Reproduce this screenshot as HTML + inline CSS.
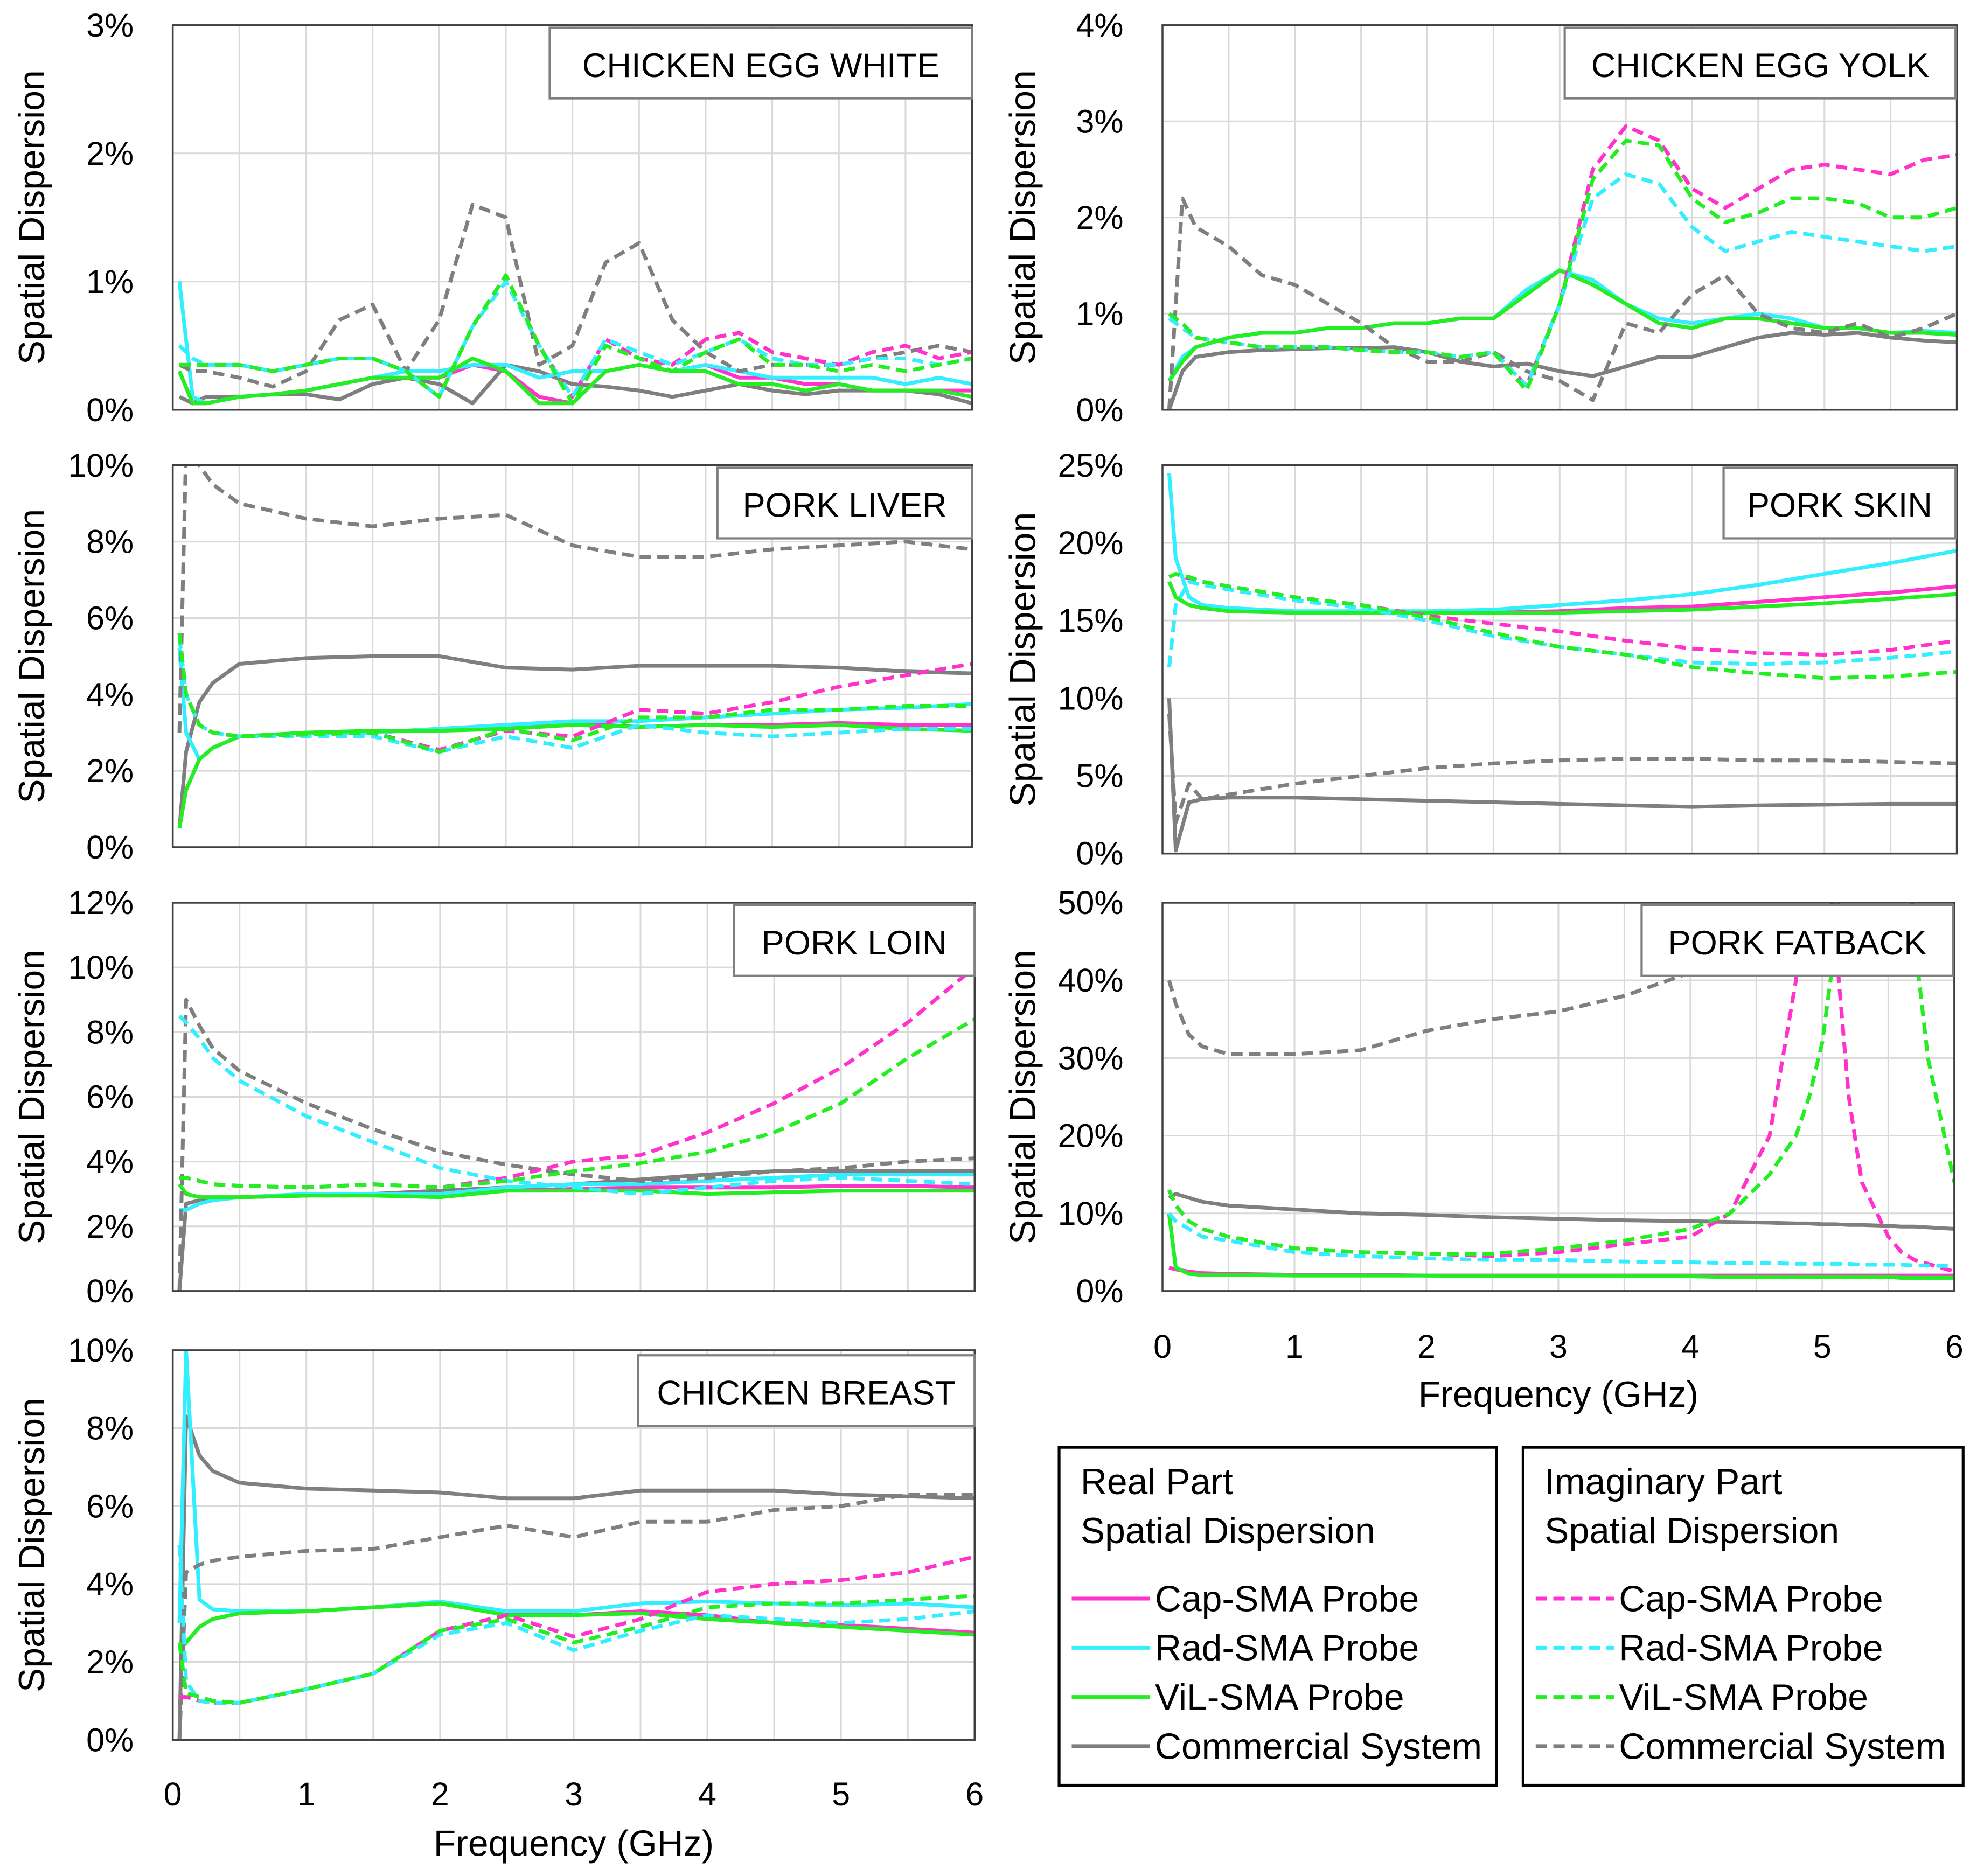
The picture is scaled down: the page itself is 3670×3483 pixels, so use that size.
<!DOCTYPE html>
<html><head><meta charset="utf-8"><style>
html,body{margin:0;padding:0;background:#fff;}
svg{display:block;font-family:"Liberation Sans","DejaVu Sans",sans-serif;}
</style></head><body>
<svg id="chart" width="3670" height="3483" viewBox="0 0 1568 1488" preserveAspectRatio="none" xmlns="http://www.w3.org/2000/svg">
<rect width="1568" height="1488" fill="#fff"/>
</svg>
<script>
// ---------- data ----------
const freqFine = [0.05,0.15,0.25,0.5,0.75,1,1.25,1.5,1.75,2,2.25,2.5,2.75,3,3.25,3.5,3.75,4,4.25,4.5,4.75,5,5.25,5.5,5.75,6];
const freqCoarse = [0.05,0.1,0.2,0.3,0.5,1,1.5,2,2.5,3,3.5,4,4.5,5,5.5,6];
const freqFat = [0.05,0.1,0.2,0.3,0.5,1,1.5,2,2.5,3,3.5,4,4.3,4.6,4.8,4.9,5.0,5.1,5.2,5.3,5.5,5.6,5.7,5.8,6];
const seriesNames = ["Cap-SMA Probe","Rad-SMA Probe","ViL-SMA Probe","Commercial System"];

// Chicken egg white
const ewRealCap = [0.3,0.05,0.05,0.1,0.12,0.15,0.2,0.25,0.25,0.25,0.35,0.3,0.1,0.05,0.3,0.35,0.3,0.35,0.25,0.25,0.2,0.2,0.15,0.15,0.15,0.15];
const ewRealRad = [1.0,0.1,0.05,0.1,0.12,0.15,0.2,0.25,0.3,0.3,0.35,0.35,0.25,0.3,0.3,0.35,0.3,0.35,0.3,0.25,0.25,0.25,0.25,0.2,0.25,0.2];
const ewRealVil = [0.3,0.05,0.05,0.1,0.12,0.15,0.2,0.25,0.25,0.25,0.4,0.3,0.05,0.05,0.3,0.35,0.3,0.3,0.2,0.2,0.15,0.2,0.15,0.15,0.15,0.1];
const ewRealCom = [0.1,0.05,0.1,0.1,0.12,0.12,0.08,0.2,0.25,0.2,0.05,0.35,0.3,0.2,0.18,0.15,0.1,0.15,0.2,0.15,0.12,0.15,0.15,0.15,0.12,0.05];
const ewImagCap = [0.35,0.35,0.35,0.35,0.3,0.35,0.4,0.4,0.3,0.1,0.65,1.05,0.5,0.1,0.55,0.4,0.35,0.55,0.6,0.45,0.4,0.35,0.45,0.5,0.4,0.45];
const ewImagRad = [0.5,0.4,0.35,0.35,0.3,0.35,0.4,0.4,0.3,0.1,0.65,1.0,0.5,0.1,0.55,0.45,0.35,0.45,0.55,0.4,0.35,0.35,0.4,0.4,0.35,0.4];
const ewImagVil = [0.35,0.35,0.35,0.35,0.3,0.35,0.4,0.4,0.3,0.1,0.65,1.05,0.5,0.05,0.5,0.4,0.3,0.45,0.55,0.35,0.35,0.3,0.35,0.3,0.35,0.4];
const ewImagCom = [0.35,0.3,0.3,0.25,0.18,0.3,0.7,0.82,0.3,0.7,1.6,1.5,0.35,0.5,1.15,1.3,0.7,0.45,0.3,0.35,0.35,0.35,0.4,0.45,0.5,0.45];

// Chicken egg yolk
const eyRealCap = [0.3,0.5,0.65,0.75,0.8,0.8,0.85,0.85,0.9,0.9,0.95,0.95,1.2,1.45,1.3,1.1,0.9,0.85,0.95,0.95,0.9,0.85,0.85,0.8,0.8,0.78];
const eyRealRad = [0.3,0.55,0.65,0.75,0.8,0.8,0.85,0.85,0.9,0.9,0.95,0.95,1.25,1.45,1.35,1.1,0.95,0.9,0.95,1.0,0.95,0.85,0.85,0.8,0.82,0.8];
const eyRealVil = [0.3,0.5,0.65,0.75,0.8,0.8,0.85,0.85,0.9,0.9,0.95,0.95,1.2,1.45,1.3,1.1,0.9,0.85,0.95,0.95,0.9,0.85,0.85,0.8,0.8,0.78];
const eyRealCom = [0.0,0.4,0.55,0.6,0.62,0.63,0.64,0.64,0.65,0.6,0.5,0.45,0.48,0.4,0.35,0.45,0.55,0.55,0.65,0.75,0.8,0.78,0.8,0.75,0.72,0.7];
const eyImagCap = [1.0,0.9,0.75,0.7,0.65,0.65,0.65,0.62,0.6,0.6,0.55,0.6,0.25,1.1,2.5,2.95,2.8,2.3,2.1,2.3,2.5,2.55,2.5,2.45,2.6,2.65];
const eyImagRad = [0.95,0.85,0.75,0.7,0.65,0.65,0.65,0.62,0.6,0.6,0.55,0.6,0.25,1.1,2.2,2.45,2.35,1.9,1.65,1.75,1.85,1.8,1.75,1.7,1.65,1.7];
const eyImagVil = [1.0,0.9,0.75,0.7,0.65,0.65,0.65,0.62,0.6,0.6,0.55,0.6,0.2,1.1,2.4,2.8,2.75,2.2,1.95,2.05,2.2,2.2,2.15,2.0,2.0,2.1];
const eyImagCom = [0.0,2.2,1.9,1.7,1.4,1.3,1.1,0.9,0.65,0.5,0.5,0.6,0.4,0.3,0.1,0.9,0.8,1.2,1.4,1.0,0.85,0.8,0.9,0.75,0.85,1.0];

// Pork liver
const lvRealCap = [0.6,1.5,2.3,2.6,2.9,3.0,3.0,3.1,3.2,3.25,3.15,3.2,3.2,3.25,3.2,3.2];
const lvRealRad = [5.2,3.0,2.3,2.6,2.9,3.0,3.0,3.1,3.2,3.3,3.3,3.4,3.5,3.6,3.65,3.75];
const lvRealVil = [0.5,1.5,2.3,2.6,2.9,3.0,3.05,3.05,3.1,3.2,3.15,3.2,3.15,3.2,3.1,3.05];
const lvRealCom = [0.5,2.5,3.8,4.3,4.8,4.95,5.0,5.0,4.7,4.65,4.75,4.75,4.75,4.7,4.6,4.55];
const lvImagCap = [5.6,4.0,3.2,3.0,2.9,2.95,3.0,2.55,3.05,2.9,3.6,3.5,3.8,4.2,4.5,4.8];
const lvImagRad = [5.5,4.0,3.2,3.0,2.9,2.9,2.9,2.5,2.9,2.6,3.2,3.0,2.9,3.0,3.1,3.1];
const lvImagVil = [5.6,4.0,3.2,3.0,2.9,2.95,3.0,2.5,3.1,2.8,3.4,3.4,3.6,3.6,3.7,3.7];
const lvImagCom = [3.0,10.5,10.0,9.5,9.0,8.6,8.4,8.6,8.7,7.9,7.6,7.6,7.8,7.9,8.0,7.8];

// Pork skin
const skRealCap = [17.5,16.5,16.0,15.8,15.6,15.5,15.5,15.5,15.5,15.6,15.8,15.9,16.2,16.5,16.8,17.2];
const skRealRad = [24.5,19.0,16.5,16.0,15.8,15.6,15.6,15.6,15.7,16.0,16.3,16.7,17.3,18.0,18.7,19.5];
const skRealVil = [17.5,16.5,16.0,15.8,15.6,15.5,15.5,15.5,15.5,15.5,15.6,15.7,15.9,16.1,16.4,16.7];
const skRealCom = [10.0,0.2,3.3,3.5,3.6,3.6,3.5,3.4,3.3,3.2,3.1,3.0,3.1,3.15,3.2,3.2];
const skImagCap = [17.8,18.0,17.7,17.5,17.2,16.5,16.0,15.3,14.8,14.3,13.7,13.2,12.9,12.8,13.1,13.7];
const skImagRad = [12.0,16.0,17.5,17.3,17.0,16.3,15.8,15.0,14.0,13.3,12.8,12.3,12.2,12.3,12.6,13.0];
const skImagVil = [17.8,18.0,17.8,17.5,17.2,16.5,16.0,15.2,14.2,13.3,12.8,12.0,11.6,11.3,11.4,11.7];
const skImagCom = [9.0,2.0,4.5,3.5,3.8,4.5,5.0,5.5,5.8,6.0,6.1,6.1,6.0,6.0,5.9,5.8];

// Pork loin
const lnRealCap = [3.3,3.0,2.9,2.9,2.9,2.95,3.0,3.0,3.1,3.15,3.2,3.2,3.2,3.25,3.25,3.2];
const lnRealRad = [2.5,2.5,2.7,2.8,2.9,3.0,3.0,3.0,3.2,3.3,3.3,3.4,3.5,3.6,3.6,3.6];
const lnRealVil = [3.3,3.0,2.9,2.9,2.9,2.95,2.95,2.9,3.1,3.1,3.1,3.0,3.05,3.1,3.1,3.1];
const lnRealCom = [0.0,2.7,2.8,2.85,2.9,2.95,3.0,3.1,3.2,3.3,3.45,3.6,3.7,3.7,3.7,3.7];
const lnImagCap = [3.5,3.5,3.4,3.3,3.25,3.2,3.3,3.2,3.5,4.0,4.2,4.9,5.8,6.9,8.3,10.0];
const lnImagRad = [8.5,8.3,7.8,7.2,6.5,5.4,4.6,3.8,3.4,3.2,3.0,3.2,3.4,3.5,3.4,3.3];
const lnImagVil = [3.5,3.5,3.4,3.3,3.25,3.2,3.3,3.2,3.4,3.7,3.95,4.3,4.9,5.8,7.2,8.4];
const lnImagCom = [0.0,9.0,8.2,7.5,6.8,5.8,5.0,4.3,3.9,3.6,3.4,3.5,3.7,3.8,4.0,4.1];

// Pork fatback
const fbRealCap = [3.0,2.8,2.5,2.3,2.2,2.1,2.1,2.0,2.0,2.0,2.0,2.0,2.0,2.0,2.0,2.0,2.0,2.0,2.0,2.0,2.0,2.0,2.0,2.0,2.0];
const fbRealRad = [10.0,3.0,2.2,2.1,2.1,2.0,2.0,2.0,1.9,1.9,1.9,1.9,1.8,1.8,1.8,1.8,1.8,1.8,1.8,1.8,1.8,1.7,1.7,1.7,1.7];
const fbRealVil = [10.0,3.0,2.2,2.1,2.1,2.0,2.0,2.0,1.9,1.9,1.9,1.9,1.8,1.8,1.8,1.8,1.8,1.8,1.8,1.8,1.8,1.7,1.7,1.7,1.7];
const fbRealCom = [12.0,12.5,12.0,11.5,11.0,10.5,10.0,9.8,9.5,9.3,9.1,9.0,8.9,8.8,8.7,8.7,8.6,8.6,8.5,8.5,8.4,8.3,8.3,8.2,8.0];
const fbImagCap = [13,11,9,8,7,5.5,5,4.8,4.5,5,6,7,10,20,40,70,70,45,25,14,7,5,4,3.5,2.5];
const fbImagRad = [10,9,8,7,6.5,5,4.5,4.2,4,4,3.8,3.7,3.6,3.6,3.5,3.5,3.5,3.5,3.5,3.4,3.4,3.4,3.3,3.3,3.2];
const fbImagVil = [13,11,9,8,7,5.5,5,4.8,4.8,5.5,6.5,8,10,15,20,25,32,45,70,70,70,70,45,30,14];
const fbImagCom = [40,37,33,31.5,30.5,30.5,31,33.5,35,36,38,41,43,45,47,48,49,50,52,54,56,58,60,62,65];

// Chicken breast
const cbRealCap = [2.3,2.5,2.9,3.1,3.25,3.3,3.4,3.5,3.25,3.2,3.3,3.2,3.0,2.95,2.85,2.75];
const cbRealRad = [3.0,10.0,3.6,3.35,3.3,3.3,3.4,3.55,3.3,3.3,3.5,3.55,3.5,3.45,3.5,3.4];
const cbRealVil = [2.3,2.5,2.9,3.1,3.25,3.3,3.4,3.5,3.2,3.2,3.25,3.1,3.0,2.9,2.8,2.7];
const cbRealCom = [0.0,8.3,7.3,6.9,6.6,6.45,6.4,6.35,6.2,6.2,6.4,6.4,6.4,6.3,6.25,6.2];
const cbImagCap = [1.1,1.1,1.0,0.95,0.95,1.3,1.7,2.8,3.2,2.65,3.1,3.8,4.0,4.1,4.3,4.7];
const cbImagRad = [5.0,1.5,1.0,0.95,0.95,1.3,1.7,2.7,3.0,2.3,2.8,3.2,3.1,3.0,3.1,3.3];
const cbImagVil = [2.5,1.2,1.1,1.0,0.95,1.3,1.7,2.8,3.1,2.5,2.9,3.4,3.5,3.5,3.6,3.7];
const cbImagCom = [0.0,4.3,4.5,4.6,4.7,4.85,4.9,5.2,5.5,5.2,5.6,5.6,5.9,6.0,6.3,6.3];

// ---------- drawing ----------
const NS = "http://www.w3.org/2000/svg";
const svg = document.getElementById("chart");
const COLORS = ["#ff33cc","#33eeff","#22ee22","#7f7f7f"];
function mk(tag, attrs, parent){
  const e = document.createElementNS(NS, tag);
  for (const k in attrs) e.setAttribute(k, attrs[k]);
  (parent||svg).appendChild(e);
  return e;
}
function txt(s, attrs, parent){ const t = mk("text", attrs, parent); t.textContent = s; return t; }

const panels = [
  {id:"chicken-egg-white", title:"CHICKEN EGG WHITE", x0:137,x1:771,y0:20,y1:325, ymax:3, ystep:1, freq:freqFine,
   real:[ewRealCap,ewRealRad,ewRealVil,ewRealCom], imag:[ewImagCap,ewImagRad,ewImagVil,ewImagCom], box:[436,22,335,56]},
  {id:"chicken-egg-yolk", title:"CHICKEN EGG YOLK", x0:922,x1:1552,y0:20,y1:325, ymax:4, ystep:1, freq:freqFine,
   real:[eyRealCap,eyRealRad,eyRealVil,eyRealCom], imag:[eyImagCap,eyImagRad,eyImagVil,eyImagCom], box:[1241,22,310,56]},
  {id:"pork-liver", title:"PORK LIVER", x0:137,x1:771,y0:369,y1:672, ymax:10, ystep:2, freq:freqCoarse,
   real:[lvRealCap,lvRealRad,lvRealVil,lvRealCom], imag:[lvImagCap,lvImagRad,lvImagVil,lvImagCom], box:[569,371,202,56]},
  {id:"pork-skin", title:"PORK SKIN", x0:922,x1:1552,y0:369,y1:677, ymax:25, ystep:5, freq:freqCoarse,
   real:[skRealCap,skRealRad,skRealVil,skRealCom], imag:[skImagCap,skImagRad,skImagVil,skImagCom], box:[1367,371,184,56]},
  {id:"pork-loin", title:"PORK LOIN", x0:137,x1:773,y0:716,y1:1024, ymax:12, ystep:2, freq:freqCoarse,
   real:[lnRealCap,lnRealRad,lnRealVil,lnRealCom], imag:[lnImagCap,lnImagRad,lnImagVil,lnImagCom], box:[582,718,191,56]},
  {id:"pork-fatback", title:"PORK FATBACK", x0:922,x1:1550,y0:716,y1:1024, ymax:50, ystep:10, freq:freqFat,
   real:[fbRealCap,fbRealRad,fbRealVil,fbRealCom], imag:[fbImagCap,fbImagRad,fbImagVil,fbImagCom], box:[1302,718,247,56]},
  {id:"chicken-breast", title:"CHICKEN BREAST", x0:137,x1:773,y0:1071,y1:1380, ymax:10, ystep:2, freq:freqCoarse,
   real:[cbRealCap,cbRealRad,cbRealVil,cbRealCom], imag:[cbImagCap,cbImagRad,cbImagVil,cbImagCom], box:[506,1075,267,56]}
];

panels.forEach((p, pi) => {
  const g = mk("g", {});
  
  
  const xs = f => p.x0 + (f/6)*(p.x1-p.x0);
  const ys = v => p.y1 - (v/p.ymax)*(p.y1-p.y0);
  for (let f=0.5; f<6; f+=0.5){
    const l = mk("line",{x1:xs(f),x2:xs(f),y1:p.y0,y2:p.y1,stroke:"#d9d9d9","stroke-width":1.3},g);
    
    
  }
  for (let v=p.ystep; v<p.ymax; v+=p.ystep){
    const l = mk("line",{x1:p.x0,x2:p.x1,y1:ys(v),y2:ys(v),stroke:"#d9d9d9","stroke-width":1.3},g);
    
    
  }
  for (let v=0; v<=p.ymax+1e-9; v+=p.ystep){
    const t = txt(v+"%",{x:p.x0-31,y:ys(v)+9,"text-anchor":"end","font-size":26,fill:"#000"},g);
    
    
  }
  const yt = txt("Spatial Dispersion",{x:0,y:0,"text-anchor":"middle","font-size":29,fill:"#000",
    transform:`translate(${p.x0<500?35:821},${(p.y0+p.y1)/2}) rotate(-90)`},g);
  
  
  const cid = "clip"+pi;
  const cp = mk("clipPath",{id:cid},g);
  mk("rect",{x:p.x0,y:p.y0,width:p.x1-p.x0,height:p.y1-p.y0},cp);
  const lines = mk("g",{"clip-path":`url(#${cid})`},g);
  const drawSeries = (arr, k, dashed) => {
    const d = arr.map((v,i)=>(i?"L":"M")+xs(p.freq[i]).toFixed(1)+","+ys(v).toFixed(1)).join(" ");
    const path = mk("path",{d:d,fill:"none",stroke:COLORS[k],"stroke-width":3,"stroke-linejoin":"round",
      "stroke-dasharray":dashed?"9 5":"none"},lines);
    
    
  };
  [3,0,1,2].forEach(k=>drawSeries(p.real[k],k,false));
  [3,0,1,2].forEach(k=>drawSeries(p.imag[k],k,true));
  const fr = mk("rect",{x:p.x0,y:p.y0,width:p.x1-p.x0,height:p.y1-p.y0,fill:"none",stroke:"#404040","stroke-width":1.5},g);
  
  
  const b = p.box;
  const br = mk("rect",{x:b[0],y:b[1],width:b[2],height:b[3],fill:"#fff",stroke:"#7f7f7f","stroke-width":1.8},g);
  
  
  const tt = txt(p.title,{x:b[0]+b[2]/2,y:b[1]+39,"text-anchor":"middle","font-size":27,fill:"#000"},g);
  
  
});

function xAxis(x0,x1,y,ty){
  for (let i=0;i<=6;i++){
    const t = txt(String(i),{x:x0+i*(x1-x0)/6,y:y,"text-anchor":"middle","font-size":26,fill:"#000"});
    
    
  }
  const t = txt("Frequency (GHz)",{x:(x0+x1)/2,y:ty,"text-anchor":"middle","font-size":29,fill:"#000"});
  
  
}
xAxis(137,773,1432,1472);
xAxis(922,1550,1077,1116);

function legend(x,w,head1,dashed,name){
  const g = mk("g",{});
  
  
  mk("rect",{x:x,y:1148,width:w,height:268,fill:"#fff",stroke:"#000","stroke-width":2.2},g);
  txt(head1,{x:x+17,y:1185,"font-size":29,fill:"#000"},g);
  txt("Spatial Dispersion",{x:x+17,y:1224,"font-size":29,fill:"#000"},g);
  seriesNames.forEach((n,k)=>{
    const yy = 1268 + k*39;
    const l = mk("line",{x1:x+10,x2:x+72,y1:yy,y2:yy,stroke:COLORS[k],"stroke-width":3,"stroke-dasharray":dashed?"9 5":"none"},g);
    
    
    const t = txt(n,{x:x+76,y:yy+10,"font-size":29,fill:"#000"},g);
    
    
  });
}
legend(840,347,"Real Part",false,"legend-real-part");
legend(1208,349,"Imaginary Part",true,"legend-imaginary-part");
</script>
</body></html>
